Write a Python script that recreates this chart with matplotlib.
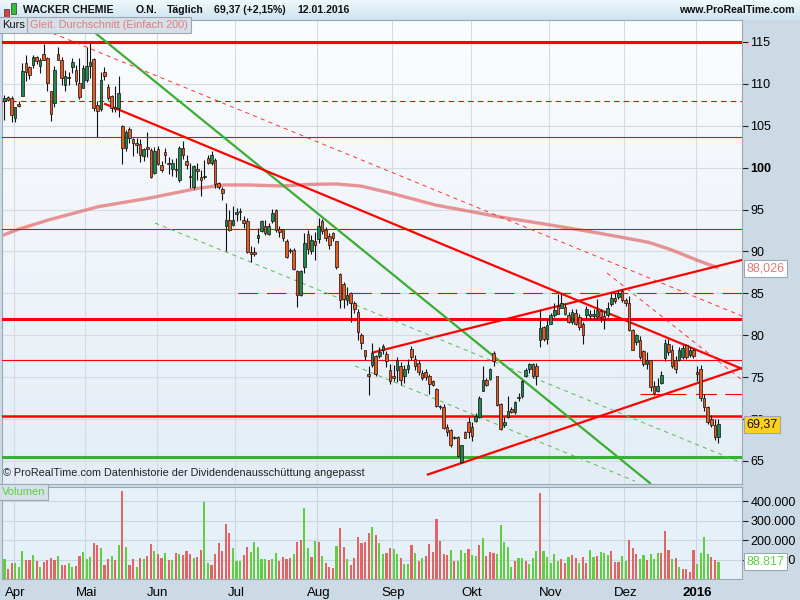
import numpy as np
import matplotlib.pyplot as plt
from matplotlib.colors import LinearSegmentedColormap

plt.rcParams['font.family'] = ['Liberation Sans', 'DejaVu Sans']
plt.rcParams['lines.scale_dashes'] = False

# trading days per month shown (Mar .. Jan)
month_days = [3, 20, 20, 22, 23, 21, 22, 22, 21, 20, 7]
month_labels = ['Apr', 'Mai', 'Jun', 'Jul', 'Aug', 'Sep', 'Okt', 'Nov', 'Dez', '2016']

opens = [107.9, 108.4, 108.3, 105.9, 107.6, 108.6, 112.5, 112.0, 112.3, 113.2,
         112.1, 113.6, 113.1, 109.1, 107.7, 113.6, 112.9, 109.9, 110.7, 112.0,
         111.7, 110.1, 109.5, 110.5, 112.1, 113.0, 107.5, 107.0, 111.4, 109.6,
         108.6, 107.2, 107.1, 105.0, 102.3, 104.6, 103.4, 103.0, 102.8, 101.4,
         102.5, 102.1, 99.4, 102.2, 100.3, 101.9, 100.6, 99.9, 99.9, 98.5,
         102.4, 100.8, 99.0, 97.7, 99.9, 98.9, 98.9, 101.1, 100.6, 100.9,
         98.2, 97.4, 93.0, 93.8, 93.2, 94.5, 94.8, 93.8, 93.6, 89.9,
         89.9, 91.6, 92.4, 93.1, 92.1, 93.6, 95.0, 92.7, 92.7, 91.3,
         90.1, 90.2, 87.7, 84.8, 88.1, 92.1, 90.1, 91.2, 91.5, 93.6,
         92.6, 91.8, 92.2, 91.2, 87.3, 86.1, 84.2, 85.1, 83.9, 82.8,
         80.0, 78.2, 75.4, 76.4, 77.5, 77.5, 78.3, 77.8, 75.8, 75.1,
         75.9, 76.3, 75.2, 76.0, 78.4, 77.2, 76.7, 75.5, 75.6, 75.1,
         74.6, 73.6, 71.6, 71.5, 69.1, 68.7, 67.8, 67.9, 64.9, 68.5,
         69.7, 69.1, 69.8, 70.3, 73.4, 74.7, 74.8, 77.9, 75.1, 71.8,
         69.3, 70.2, 71.2, 70.8, 72.5, 72.7, 75.2, 76.0, 76.6, 76.3,
         79.4, 81.0, 79.5, 81.4, 82.4, 83.5, 83.3, 83.4, 82.4, 81.6,
         82.7, 82.2, 81.4, 82.4, 82.5, 82.3, 82.2, 82.9, 82.3, 82.4,
         83.7, 84.5, 84.6, 85.3, 84.2, 83.9, 80.6, 79.2, 79.4, 78.1,
         76.6, 77.0, 73.9, 73.4, 74.3, 77.3, 79.0, 78.2, 77.1, 77.1,
         77.4, 78.8, 77.6, 78.3, 75.6, 76.0, 72.5, 71.5, 70.0, 69.3,
         67.9]
highs = [108.7, 108.6, 108.5, 107.3, 108.0, 112.5, 113.5, 112.1, 113.4, 113.3,
         113.1, 114.8, 113.2, 109.2, 112.1, 114.4, 113.2, 111.7, 111.4, 113.1,
         112.2, 113.1, 112.2, 114.4, 114.9, 113.1, 107.9, 111.4, 112.0, 110.0,
         108.7, 109.8, 111.0, 105.1, 104.5, 104.8, 103.6, 103.5, 103.4, 102.4,
         104.3, 102.4, 102.5, 102.6, 100.8, 102.4, 101.3, 101.0, 101.1, 102.6,
         103.2, 101.5, 100.6, 100.3, 100.6, 99.7, 100.9, 101.5, 102.0, 101.2,
         98.3, 97.7, 95.8, 95.0, 95.4, 95.2, 95.2, 94.2, 94.0, 90.6,
         90.5, 92.8, 93.7, 93.8, 93.4, 95.1, 95.1, 93.0, 92.7, 91.5,
         90.4, 90.4, 87.8, 87.8, 92.2, 92.6, 92.0, 92.3, 94.0, 93.9,
         92.9, 92.2, 92.3, 91.3, 87.4, 86.4, 85.8, 85.2, 84.1, 83.1,
         80.3, 78.3, 76.3, 79.1, 77.6, 78.6, 79.0, 78.1, 76.6, 76.4,
         77.4, 76.8, 76.5, 77.2, 78.7, 77.6, 77.0, 75.8, 76.0, 75.4,
         74.7, 73.7, 71.7, 71.8, 69.4, 68.8, 68.0, 68.0, 66.9, 68.6,
         70.2, 69.6, 70.7, 72.7, 76.3, 74.9, 76.1, 78.1, 75.1, 71.9,
         70.2, 72.8, 71.4, 72.2, 73.1, 74.7, 76.1, 76.7, 76.7, 76.7,
         83.0, 81.1, 82.0, 82.7, 83.9, 84.9, 85.1, 83.7, 82.8, 83.1,
         83.1, 82.5, 81.6, 83.5, 83.0, 83.1, 84.3, 83.1, 82.9, 84.0,
         85.1, 85.0, 85.4, 85.5, 84.4, 84.7, 80.7, 80.2, 79.9, 78.3,
         78.0, 77.1, 74.6, 74.9, 75.7, 79.5, 79.6, 78.8, 77.5, 78.6,
         78.9, 79.0, 78.6, 78.5, 76.3, 76.4, 73.0, 71.6, 70.5, 70.0,
         70.0]
lows = [105.7, 107.9, 105.4, 105.4, 107.2, 108.5, 110.3, 110.6, 111.9, 112.4,
        111.3, 112.8, 109.2, 105.6, 107.3, 112.8, 109.9, 109.1, 109.9, 111.3,
        109.9, 108.2, 109.5, 110.2, 110.7, 106.8, 103.7, 106.8, 110.5, 108.1,
        106.7, 106.7, 106.0, 100.5, 102.0, 103.0, 101.4, 101.8, 100.7, 100.8,
        101.3, 98.8, 99.2, 100.3, 99.5, 100.6, 99.2, 99.0, 98.9, 98.3,
        101.0, 99.9, 97.6, 97.5, 98.5, 96.6, 98.7, 100.4, 100.3, 97.6,
        97.4, 96.1, 90.0, 92.5, 93.0, 93.6, 93.7, 92.8, 89.8, 88.8,
        89.5, 91.0, 92.3, 92.0, 92.0, 93.4, 92.3, 91.7, 91.3, 89.2,
        89.8, 87.8, 83.4, 84.7, 87.4, 89.7, 89.7, 89.0, 91.0, 92.1,
        91.3, 90.3, 91.2, 87.9, 83.3, 83.2, 83.6, 81.6, 82.7, 79.4,
        78.4, 77.1, 72.9, 76.2, 75.2, 77.3, 77.8, 76.2, 74.2, 74.6,
        74.4, 74.1, 74.3, 75.5, 77.1, 75.9, 75.3, 74.7, 74.7, 73.0,
        73.9, 71.4, 71.2, 68.8, 68.0, 66.7, 67.6, 65.5, 64.8, 67.7,
        67.8, 67.4, 69.6, 70.1, 73.3, 74.0, 74.7, 76.3, 71.6, 68.7,
        69.0, 70.1, 70.7, 70.6, 72.1, 72.5, 75.0, 75.5, 74.9, 74.1,
        78.6, 79.3, 79.0, 81.3, 82.2, 82.5, 83.2, 82.4, 81.5, 81.4,
        81.2, 80.6, 79.0, 82.0, 82.0, 82.0, 81.9, 81.6, 80.7, 82.2,
        83.5, 83.9, 84.3, 84.0, 83.5, 80.5, 78.2, 78.9, 77.2, 76.3,
        76.0, 73.4, 72.9, 73.2, 74.2, 76.9, 77.7, 76.1, 75.5, 76.9,
        77.2, 77.2, 77.4, 77.3, 74.5, 72.2, 71.0, 69.4, 69.0, 67.5,
        67.1]
closes = [108.3, 108.1, 106.3, 107.2, 107.4, 111.5, 111.4, 111.1, 113.2, 112.7,
          112.9, 112.9, 110.1, 106.4, 111.7, 112.9, 110.7, 110.9, 110.8, 112.6,
          110.3, 108.4, 111.9, 112.1, 112.6, 107.1, 106.8, 110.5, 110.9, 108.3,
          107.1, 107.0, 108.9, 102.3, 104.3, 103.5, 102.9, 102.7, 101.5, 102.2,
          102.2, 98.9, 102.0, 100.5, 99.7, 101.5, 100.5, 100.6, 99.7, 102.3,
          101.5, 100.3, 98.9, 100.2, 99.6, 98.5, 99.0, 100.6, 101.5, 98.1,
          97.7, 97.0, 93.8, 92.6, 93.8, 94.7, 94.7, 93.4, 89.9, 89.7,
          89.7, 92.0, 93.6, 92.2, 93.1, 94.6, 92.6, 92.3, 91.6, 89.3,
          90.0, 87.9, 84.8, 87.7, 91.0, 90.3, 91.4, 90.8, 93.0, 92.4,
          91.6, 90.8, 91.6, 88.2, 84.2, 84.3, 84.8, 83.8, 83.1, 80.4,
          79.1, 77.5, 75.2, 77.9, 75.4, 78.0, 78.7, 76.9, 74.5, 74.9,
          77.1, 74.7, 76.0, 76.5, 77.4, 76.3, 75.6, 74.9, 75.0, 74.2,
          74.1, 71.6, 71.4, 68.9, 68.5, 66.9, 67.8, 65.6, 66.9, 67.8,
          68.5, 68.0, 70.4, 72.5, 74.7, 74.1, 76.0, 76.9, 71.7, 68.8,
          69.7, 71.0, 70.9, 72.0, 72.5, 74.5, 75.9, 76.6, 75.1, 75.1,
          80.9, 79.6, 81.2, 82.4, 83.0, 82.6, 83.9, 82.6, 81.6, 82.8,
          81.4, 81.0, 80.0, 83.1, 82.3, 82.5, 83.0, 82.2, 82.0, 83.2,
          84.5, 84.1, 85.0, 84.2, 83.8, 80.6, 78.3, 80.0, 77.4, 76.6,
          77.0, 73.8, 73.1, 73.9, 75.3, 79.1, 78.0, 76.3, 76.0, 78.2,
          78.5, 77.4, 78.3, 77.5, 75.4, 72.5, 71.5, 69.6, 69.3, 67.9,
          69.37]

volumes_k = [101, 49, 83, 80, 60, 142, 96, 96, 125, 92,
             60, 85, 96, 109, 97, 119, 70, 73, 80, 60,
             65, 116, 137, 101, 111, 183, 172, 157, 70, 101,
             119, 96, 172, 449, 162, 70, 101, 60, 106, 101,
             116, 178, 143, 128, 106, 132, 96, 96, 132, 126,
             123, 142, 126, 106, 111, 147, 393, 80, 70, 126,
             183, 142, 280, 234, 157, 92, 92, 121, 162, 137,
             188, 162, 101, 101, 96, 101, 132, 90, 111, 101,
             106, 126, 188, 198, 362, 157, 111, 193, 188, 116,
             80, 60, 54, 167, 260, 162, 101, 70, 106, 213,
             183, 188, 234, 265, 224, 183, 126, 132, 157, 152,
             126, 109, 75, 75, 172, 132, 90, 106, 116, 178,
             137, 306, 193, 126, 121, 147, 90, 90, 147, 132,
             152, 121, 116, 172, 208, 116, 137, 132, 126, 275,
             188, 162, 60, 90, 106, 106, 90, 75, 106, 142,
             439, 142, 111, 80, 126, 90, 101, 80, 111, 121,
             106, 80, 111, 80, 147, 111, 116, 137, 132, 121,
             142, 85, 85, 116, 90, 200, 157, 126, 101, 121,
             96, 126, 101, 132, 132, 244, 147, 101, 106, 60,
             49, 49, 34, 147, 75, 132, 213, 126, 111, 100,
             88.817]
vol_colors = ('grrgggrrgr' 'grrrrgrrgg' 'rrgggrrgrr' 'grgrgrrgrg'
              'rrgrrgrgrg' 'rrrgrrggrr' 'rrrrgggrrg' 'ggggrggrrr'
              'rgrrggrgrg' 'rrrgrrgrrr' 'rrrgrggrrg' 'grggrgrgrr'
              'rrrrrgrggg' 'rggrgrrrgg' 'gggrggrgg'
              'grgggggrrg' 'rrgrrggrgg' 'grrrggrrrg' 'grgggrrrgr'
              'grrrrggg')

ma_idx = [-1, 3.9, 12.3, 26.3, 40.3, 54.3, 61.8, 68.3, 77.6, 85.1, 93, 100,
          108.4, 120.7, 138.4, 152.4, 166.4, 180.4, 186.8, 194.4, 200]
ma_val = [91.85, 92.65, 93.76, 95.35, 96.35, 97.55, 97.94, 97.94, 97.82, 98.0,
          98.06, 97.8, 96.95, 95.55, 94.15, 93.2, 92.2, 91.1, 90.2, 88.9, 88.03]

# horizontal levels: price, style, width, colour, start index
levels = [(115.0, '-', 2.2, '#ff0000', None), (107.9, (0, (4, 3)), 0.8, '#ff0000', None),
          (103.63, '-', 0.8, '#ff0000', None), (92.65, '-', 0.8, '#ff0000', None),
          (85.0, (0, (14, 6.5)), 0.8, '#ff0000', 65.4), (81.95, '-', 2.2, '#ff0000', None),
          (77.02, '-', 0.8, '#ff0000', None), (70.4, '-', 1.8, '#ff0000', None),
          (73.0, (0, (33, 7, 15, 6, 14, 6)), 0.8, '#ff0000', 178),
          (65.51, '-', 2.2, '#33b233', None)]
# trend lines: (i0, p0), (i1, p1), style, width, colour
trends = [((21.1, 117.57), (180.8, 62.37), '-', 1.6, '#3aad35'),
          ((28.2, 107.6), (206.6, 76.0), '-', 1.6, '#ff0000'),
          ((118.6, 63.39), (206.6, 76.1), '-', 1.6, '#ff0000'),
          ((103.2, 77.95), (206.6, 88.99), '-', 1.6, '#ff0000'),
          ((11.3, 116.43), (206.6, 82.3), (0, (3, 3)), 0.7, '#ff3030'),
          ((168.8, 87.43), (206.6, 74.67), (0, (3, 3)), 0.7, '#ff3030'),
          ((42.2, 93.4), (206.6, 64.76), (0, (3, 3)), 0.7, '#55bb55'),
          ((98.2, 76.34), (176.6, 62.6), (0, (3, 3)), 0.7, '#55bb55')]

n = len(closes)
x = np.arange(n)
o = np.array(opens); h = np.array(highs); l = np.array(lows); c = np.array(closes)
starts = np.cumsum([0] + month_days)[1:-1]
grid_x = starts - 0.4

fig = plt.figure(figsize=(8, 6), dpi=100)
fig.patch.set_facecolor('#cbdae5')

# header bar
axh = fig.add_axes([0, 580 / 600, 1, 20 / 600])
axh.imshow(np.linspace(0, 1, 20).reshape(-1, 1), cmap=LinearSegmentedColormap.from_list('h', ['#eef7fc', '#cfe4f0']),
           aspect='auto', extent=[0, 1, 0, 1])
axh.set_xlim(0, 1); axh.set_ylim(0, 1); axh.axis('off')
for xx, t in [(23, 'WACKER CHEMIE'), (136, 'O.N.'), (167, 'Täglich'), (214, '69,37 (+2,15%)'), (297, '12.01.2016')]:
    axh.text(xx / 800, 0.48, t, fontsize=7.6, fontweight='bold', color='#111111', va='center', ha='left')
axh.text(795 / 800, 0.48, 'www.ProRealTime.com', fontsize=7.6, fontweight='bold', color='#111111',
         va='center', ha='right')
axh.add_patch(plt.Rectangle((4 / 800, 0.15), 5 / 800, 0.4, fc='#e04040', ec='#333333', lw=0.5))
axh.add_patch(plt.Rectangle((11 / 800, 0.3), 5 / 800, 0.55, fc='#30c030', ec='#333333', lw=0.5))

# price panel
ax = fig.add_axes([2 / 800, 116 / 600, 740 / 800, 464 / 600])
bg = LinearSegmentedColormap.from_list('bg', ['#e4edf5', '#fbfcfe'])
ax.imshow(np.linspace(0, 1, 50).reshape(-1, 1), cmap=bg, origin='lower', aspect='auto',
          extent=[0, 1, 0, 1], transform=ax.transAxes, zorder=0)
ax.set_xlim(-0.7, 206.6)
ax.set_ylim(62.255, 117.625)
for g in grid_x:
    ax.axvline(g, color='#d3dbe3', lw=0.8, zorder=1)
for p in range(65, 116, 5):
    ax.axhline(p, color='#d3dbe3', lw=0.8, zorder=1)

ax.plot(ma_idx, ma_val, color='#e06a6a', lw=2.4, alpha=0.7, zorder=2, solid_capstyle='butt')

for p, ls, lw, col, s in levels:
    x0 = -1 if s is None else s
    ax.plot([x0, 207], [p, p], ls=ls, lw=lw, color=col, zorder=3)
for (i0, p0), (i1, p1), ls, lw, col in trends:
    ax.plot([i0, i1], [p0, p1], ls=ls, lw=lw, color=col, zorder=3)

up = c >= o
ax.vlines(x, l, h, color='#111111', lw=0.8, zorder=4)
body_lo = np.minimum(o, c)
body_h = np.maximum(np.abs(c - o), 0.12)
ax.bar(x[up], body_h[up], bottom=body_lo[up], width=0.72, color='#1f8a4c', edgecolor='#111111', lw=0.5, zorder=5)
ax.bar(x[~up], body_h[~up], bottom=body_lo[~up], width=0.72, color='#ea5a20', edgecolor='#111111', lw=0.5, zorder=5)

ax.yaxis.tick_right()
ax.set_yticks(range(65, 116, 5))
ax.set_yticklabels([str(v) for v in range(65, 116, 5)], fontsize=9)
for t in ax.get_yticklabels():
    if t.get_text() == '100':
        t.set_fontweight('bold')
ax.tick_params(axis='y', length=4, width=0.8, color='#222222', pad=2)
ax.set_xticks([])
for s in ax.spines.values():
    s.set_color('#9aa8b4')

# label boxes
ax.text(0.0, 1.0, 'Kurs', transform=ax.transAxes, fontsize=8, va='top', ha='left', color='#111111',
        bbox=dict(boxstyle='square,pad=0.25', fc='#d5e0e8', ec='#9aa8b4', lw=0.8), zorder=10)
ax.text(0.038, 1.0, 'Gleit. Durchschnitt (Einfach 200)', transform=ax.transAxes, fontsize=7.8, va='top',
        ha='left', color='#e07b7b', bbox=dict(boxstyle='square,pad=0.25', fc='#d5e0e8', ec='#9aa8b4', lw=0.8),
        zorder=10)
ax.text(0.002, 0.012, '© ProRealTime.com Datenhistorie der Dividendenausschüttung angepasst',
        transform=ax.transAxes, fontsize=7.8, color='#222222', va='bottom', ha='left', zorder=10)
ax.text(1.006, ma_val[-1], '88,026', transform=ax.get_yaxis_transform(), fontsize=9, color='#e07b7b',
        va='center', ha='left', bbox=dict(boxstyle='square,pad=0.2', fc='white', ec='#9aa8b4', lw=0.8),
        zorder=10, clip_on=False)
ax.text(1.006, closes[-1], '69,37', transform=ax.get_yaxis_transform(), fontsize=9, color='#111111',
        va='center', ha='left', bbox=dict(boxstyle='square,pad=0.2', fc='#ffd21a', ec='#9aa8b4', lw=0.8),
        zorder=10, clip_on=False)

# volume panel
av = fig.add_axes([2 / 800, 21 / 600, 740 / 800, 92 / 600])
av.set_facecolor('#e6f0f8')
av.set_xlim(-0.7, 206.6)
av.set_ylim(0, 472)
for g in grid_x:
    av.axvline(g, color='#ccd6df', lw=0.8, zorder=1)
for v in (100, 200, 300, 400):
    av.axhline(v, color='#ccd6df', lw=0.8, zorder=1)
vcol = ['#5fcf3f' if ch == 'g' else '#e36464' for ch in vol_colors]
av.bar(x, volumes_k, width=0.6, color=vcol, zorder=3)
av.yaxis.tick_right()
av.set_yticks([100, 200, 300, 400])
av.set_yticklabels(['100.000', '200.000', '300.000', '400.000'], fontsize=9)
av.tick_params(axis='y', length=4, width=0.8, color='#222222', pad=2)
av.set_xticks(starts)
av.set_xticklabels(month_labels, fontsize=9.5)
av.tick_params(axis='x', length=0, pad=6)
av.get_xticklabels()[-1].set_fontweight('bold')
for s in av.spines.values():
    s.set_color('#9aa8b4')
av.text(0.0, 1.0, 'Volumen', transform=av.transAxes, fontsize=8, va='top', ha='left', color='#5fcf3f',
        bbox=dict(boxstyle='square,pad=0.25', fc='#d5e0e8', ec='#9aa8b4', lw=0.8), zorder=10)
av.text(1.006, volumes_k[-1], '88.817', transform=av.get_yaxis_transform(), fontsize=9, color='#5fcf3f',
        va='center', ha='left', bbox=dict(boxstyle='square,pad=0.2', fc='white', ec='#9aa8b4', lw=0.8),
        zorder=10, clip_on=False)

fig.savefig('out.png', dpi=100, facecolor=fig.get_facecolor())
